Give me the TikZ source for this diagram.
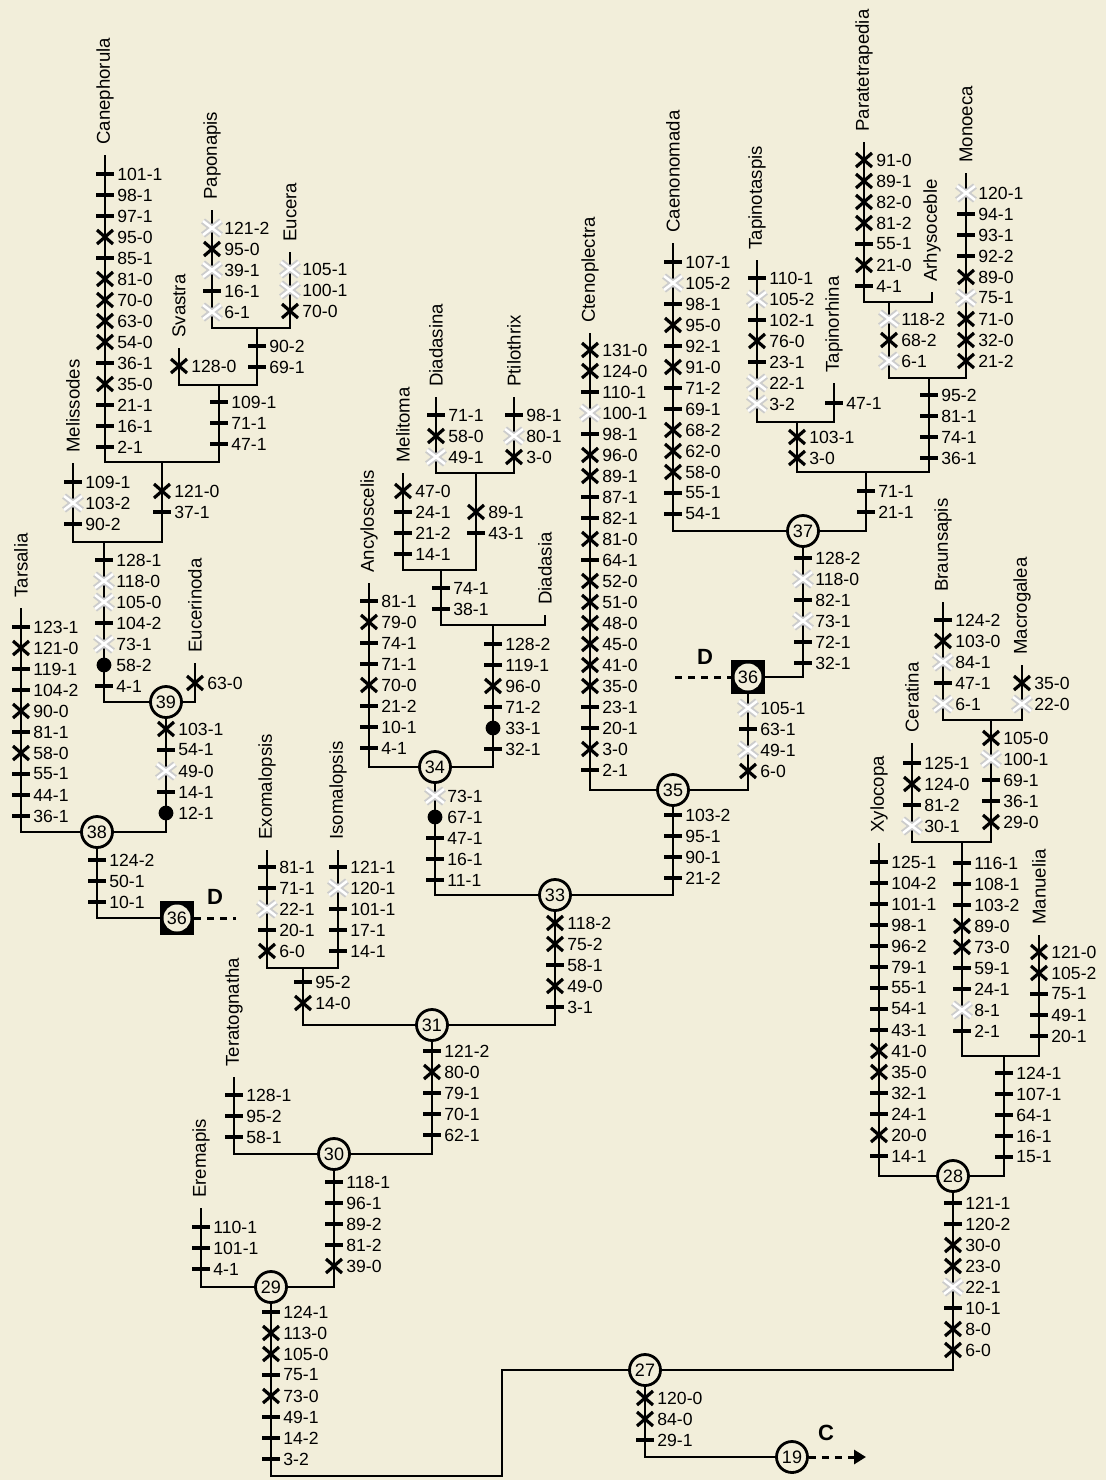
\documentclass[tikz,border=0pt]{standalone}
\usepackage{fontspec}
\setmainfont{Liberation Sans}
\usetikzlibrary{arrows.meta}
\definecolor{paper}{HTML}{F2EEDA}

\tikzset{
  branch/.style={line width=1.4pt},
  tickmark/.style={line width=1.6pt},
  chr/.style={anchor=west, inner sep=0pt, xshift=6pt, font=\fontsize{8.8}{10}\selectfont},
  taxon/.style={rotate=90, anchor=west, inner sep=0pt, font=\fontsize{9.3}{11}\selectfont},
  clade/.style={circle, draw, line width=1.4pt, fill=paper, minimum size=15.5pt, inner sep=0pt, font=\fontsize{9}{10}\selectfont},
  boxed/.style={rectangle, fill=black, minimum size=17pt, inner sep=0pt},
  boxin/.style={circle, fill=paper, minimum size=13.5pt, inner sep=0pt, font=\fontsize{9}{10}\selectfont},
  link/.style={line width=1.5pt, dash pattern=on 3.5pt off 3pt},
  tag/.style={font=\fontsize{11}{12}\selectfont\bfseries, inner sep=0pt}
}

% character marks: bar, reversal, homoplasy, unique
\newcommand{\tkb}[2]{\draw[tickmark] (#1,#2) ++(-9,0) -- ++(18,0);}
\newcommand{\tkx}[2]{\draw[tickmark] (#1,#2) ++(-8,-7) -- ++(16,14) (#1,#2) ++(-8,7) -- ++(16,-14);}
\newcommand{\tko}[2]{%
  \draw[line width=3.2pt, gray!40] (#1,#2) ++(-9,-7) -- ++(18,14) (#1,#2) ++(-9,7) -- ++(18,-14);
  \draw[line width=1.3pt, white] (#1,#2) ++(-9,-7) -- ++(18,14) (#1,#2) ++(-9,7) -- ++(18,-14);}
\newcommand{\tkd}[2]{\fill (#1,#2) circle (3.7pt);}

\newcommand{\chars}[4]{%
  \foreach \kind/\txt [count=\i from 0] in {#4}{
    \pgfmathsetmacro{\yy}{#3+21*\i}
    \csname tk\kind\endcsname{#2}{\yy}
    \node[chr] (#1-\i) at (#2,\yy) {\txt};
  }}

\newcommand{\leaf}[4]{%
  \coordinate (#1) at (#2,#3);
  \node[taxon] (#1-lbl) at (#2,{#3-10}) {#4};}

\begin{document}
\begin{tikzpicture}[x=0.5pt, y=-0.5pt]

  \fill[paper] (0,0) rectangle (1106,1480);
  \useasboundingbox (0,0) rectangle (1106,1480);

  % taxa
  \leaf{canephorula}{105}{155}{Canephorula}
  \leaf{paponapis}{212}{210}{Paponapis}
  \leaf{eucera}{290}{252}{Eucera}
  \leaf{svastra}{179}{348}{Svastra}
  \leaf{melissodes}{73}{463}{Melissodes}
  \leaf{eucerinoda}{195}{663}{Eucerinoda}
  \leaf{tarsalia}{21}{608}{Tarsalia}
  \leaf{exomalopsis}{267}{850}{Exomalopsis}
  \leaf{isomalopsis}{338}{850}{Isomalopsis}
  \leaf{teratognatha}{234}{1077}{Teratognatha}
  \leaf{eremapis}{201}{1208}{Eremapis}
  \leaf{ancyloscelis}{369}{583}{Ancyloscelis}
  \leaf{melitoma}{403}{473}{Melitoma}
  \leaf{diadasina}{436}{397}{Diadasina}
  \leaf{ptilothrix}{514}{397}{Ptilothrix}
  \leaf{diadasia}{545}{615}{Diadasia}
  \leaf{ctenoplectra}{590}{333}{Ctenoplectra}
  \leaf{caenonomada}{673}{243}{Caenonomada}
  \leaf{tapinotaspis}{757}{260}{Tapinotaspis}
  \leaf{tapinorhina}{834}{383}{Tapinorhina}
  \leaf{paratetrapedia}{864}{142}{Paratetrapedia}
  \leaf{arhysoceble}{932}{292}{Arhysoceble}
  \leaf{monoeca}{966}{173}{Monoeca}
  \leaf{braunsapis}{943}{602}{Braunsapis}
  \leaf{macrogalea}{1022}{665}{Macrogalea}
  \leaf{ceratina}{912}{743}{Ceratina}
  \leaf{xylocopa}{879}{843}{Xylocopa}
  \leaf{manuelia}{1039}{935}{Manuelia}

  % joints
  \coordinate (jPE) at (257,328);
  \coordinate (jSv) at (219,385);
  \coordinate (jCa) at (162,462);
  \coordinate (jMe) at (104,542);
  \coordinate (jEI) at (303,968);
  \coordinate (jDP) at (476,473);
  \coordinate (jMD) at (441,570);
  \coordinate (jDi) at (493,625);
  \coordinate (jTap) at (797,422);
  \coordinate (jPA) at (889,302);
  \coordinate (jPM) at (929,378);
  \coordinate (jR) at (866,472);
  \coordinate (jBM) at (991,720);
  \coordinate (jCr) at (962,842);
  \coordinate (jMn) at (1004,1056);
  \coordinate (jBot) at (502,1476);
  \coordinate (dA) at (236,918);
  \coordinate (dB) at (675,677);
  \coordinate (cEnd) at (866,1457);

  % clade nodes
  \node[clade] (n39) at (166,702) {39};
  \node[clade] (n38) at (97,832) {38};
  \node[boxed] (box36a) at (177,918) {};
  \node[boxin] (box36a-in) at (box36a) {36};
  \node[clade] (n34) at (435,767) {34};
  \node[clade] (n35) at (673,790) {35};
  \node[clade] (n33) at (555,895) {33};
  \node[boxed] (box36b) at (748,677) {};
  \node[boxin] (box36b-in) at (box36b) {36};
  \node[clade] (n37) at (803,531) {37};
  \node[clade] (n31) at (432,1025) {31};
  \node[clade] (n30) at (334,1154) {30};
  \node[clade] (n29) at (271,1287) {29};
  \node[clade] (n27) at (645,1370) {27};
  \node[clade] (n28) at (953,1176) {28};
  \node[clade] (n19) at (792,1457) {19};

  % branches
  \draw[branch] (paponapis) |- (jPE) -| (eucera);
  \draw[branch] (svastra) |- (jSv) -| (jPE);
  \draw[branch] (canephorula) |- (jCa) -| (jSv);
  \draw[branch] (melissodes) |- (jMe) -| (jCa);
  \draw[branch] (jMe) |- (n39) -| (eucerinoda);
  \draw[branch] (tarsalia) |- (n38) -| (n39);
  \draw[branch] (n38) |- (box36a);
  \draw[link] (box36a) -- (dA);
  \draw[branch] (exomalopsis) |- (jEI) -| (isomalopsis);
  \draw[branch] (jEI) |- (n31);
  \draw[branch] (diadasina) |- (jDP) -| (ptilothrix);
  \draw[branch] (melitoma) |- (jMD) -| (jDP);
  \draw[branch] (jMD) |- (jDi) -| (diadasia);
  \draw[branch] (ancyloscelis) |- (n34) -| (jDi);
  \draw[branch] (n34) |- (n33) -| (n35);
  \draw[branch] (ctenoplectra) |- (n35) -| (box36b);
  \draw[link] (dB) -- (box36b);
  \draw[branch] (box36b) -| (n37);
  \draw[branch] (tapinotaspis) |- (jTap) -| (tapinorhina);
  \draw[branch] (paratetrapedia) |- (jPA) -| (arhysoceble);
  \draw[branch] (jPA) |- (jPM) -| (monoeca);
  \draw[branch] (jTap) |- (jR) -| (jPM);
  \draw[branch] (caenonomada) |- (n37) -| (jR);
  \draw[branch] (n33) |- (n31);
  \draw[branch] (n31) |- (n30);
  \draw[branch] (teratognatha) |- (n30);
  \draw[branch] (n30) |- (n29);
  \draw[branch] (eremapis) |- (n29);
  \draw[branch] (n29) |- (jBot) |- (n27);
  \draw[branch] (n27) -| (n28);
  \draw[branch] (n27) |- (n19);
  \draw[link, -{Triangle[length=6pt, width=7pt]}] (n19) -- (cEnd);
  \draw[branch] (braunsapis) |- (jBM) -| (macrogalea);
  \draw[branch] (ceratina) |- (jCr) -| (jBM);
  \draw[branch] (jCr) |- (jMn) -| (manuelia);
  \draw[branch] (xylocopa) |- (n28) -| (jMn);

  \node[tag] (dtagA) at (215,897) {D};
  \node[tag] (dtagB) at (705,657) {D};
  \node[tag] (ctag) at (826,1433) {C};

  % characters
  \chars{ca}{105}{174}{b/101-1, b/98-1, b/97-1, x/95-0, b/85-1, x/81-0, x/70-0, x/63-0, x/54-0, b/36-1, x/35-0, b/21-1, b/16-1, b/2-1}
  \chars{pa}{212}{228}{o/121-2, x/95-0, o/39-1, b/16-1, o/6-1}
  \chars{eu}{290}{269}{o/105-1, o/100-1, x/70-0}
  \chars{pe}{257}{346}{b/90-2, b/69-1}
  \chars{sv}{179}{366}{x/128-0}
  \chars{sg}{219}{402}{b/109-1, b/71-1, b/47-1}
  \chars{cg}{162}{491}{x/121-0, b/37-1}
  \chars{me}{73}{482}{b/109-1, o/103-2, b/90-2}
  \chars{mg}{104}{560}{b/128-1, o/118-0, o/105-0, b/104-2, o/73-1, d/58-2, b/4-1}
  \chars{ec}{195}{683}{x/63-0}
  \chars{c39}{166}{729}{x/103-1, b/54-1, o/49-0, b/14-1, d/12-1}
  \chars{ta}{21}{627}{b/123-1, x/121-0, b/119-1, b/104-2, x/90-0, b/81-1, x/58-0, b/55-1, b/44-1, b/36-1}
  \chars{c38}{97}{860}{b/124-2, b/50-1, b/10-1}
  \chars{ex}{267}{867}{b/81-1, b/71-1, o/22-1, b/20-1, x/6-0}
  \chars{is}{338}{867}{b/121-1, o/120-1, b/101-1, b/17-1, b/14-1}
  \chars{ei}{303}{982}{b/95-2, x/14-0}
  \chars{ml}{403}{491}{x/47-0, b/24-1, b/21-2, b/14-1}
  \chars{dn}{436}{415}{b/71-1, x/58-0, o/49-1}
  \chars{pt}{514}{415}{b/98-1, o/80-1, x/3-0}
  \chars{dp}{476}{512}{x/89-1, b/43-1}
  \chars{md}{441}{588}{b/74-1, b/38-1}
  \chars{dd}{493}{644}{b/128-2, b/119-1, x/96-0, b/71-2, d/33-1, b/32-1}
  \chars{an}{369}{601}{b/81-1, x/79-0, b/74-1, b/71-1, x/70-0, b/21-2, b/10-1, b/4-1}
  \chars{c34}{435}{796}{o/73-1, d/67-1, b/47-1, b/16-1, b/11-1}
  \chars{c35}{673}{815}{b/103-2, b/95-1, b/90-1, b/21-2}
  \chars{ct}{590}{350}{x/131-0, x/124-0, b/110-1, o/100-1, b/98-1, x/96-0, x/89-1, b/87-1, b/82-1, x/81-0, b/64-1, x/52-0, x/51-0, x/48-0, x/45-0, x/41-0, x/35-0, b/23-1, b/20-1, x/3-0, b/2-1}
  \chars{b36}{748}{708}{o/105-1, b/63-1, o/49-1, x/6-0}
  \chars{c37}{803}{558}{b/128-2, o/118-0, b/82-1, o/73-1, b/72-1, b/32-1}
  \chars{cn}{673}{262}{b/107-1, o/105-2, b/98-1, x/95-0, b/92-1, x/91-0, b/71-2, b/69-1, x/68-2, x/62-0, x/58-0, b/55-1, b/54-1}
  \chars{rs}{866}{491}{b/71-1, b/21-1}
  \chars{tp}{757}{278}{b/110-1, o/105-2, b/102-1, x/76-0, b/23-1, o/22-1, o/3-2}
  \chars{th}{834}{403}{b/47-1}
  \chars{tt}{797}{437}{x/103-1, x/3-0}
  \chars{pr}{864}{160}{x/91-0, x/89-1, x/82-0, x/81-2, b/55-1, x/21-0, b/4-1}
  \chars{pq}{889}{319}{o/118-2, x/68-2, o/6-1}
  \chars{mo}{966}{193}{o/120-1, b/94-1, b/93-1, b/92-2, x/89-0, o/75-1, x/71-0, x/32-0, x/21-2}
  \chars{pm}{929}{395}{b/95-2, b/81-1, b/74-1, b/36-1}
  \chars{c33}{555}{923}{x/118-2, x/75-2, b/58-1, x/49-0, b/3-1}
  \chars{c31}{432}{1051}{b/121-2, x/80-0, b/79-1, b/70-1, b/62-1}
  \chars{te}{234}{1095}{b/128-1, b/95-2, b/58-1}
  \chars{c30}{334}{1182}{b/118-1, b/96-1, b/89-2, b/81-2, x/39-0}
  \chars{er}{201}{1227}{b/110-1, b/101-1, b/4-1}
  \chars{c29}{271}{1312}{b/124-1, x/113-0, x/105-0, b/75-1, x/73-0, b/49-1, b/14-2, b/3-2}
  \chars{c27}{645}{1398}{x/120-0, x/84-0, b/29-1}
  \chars{br}{943}{620}{b/124-2, x/103-0, o/84-1, b/47-1, o/6-1}
  \chars{mc}{1022}{683}{x/35-0, o/22-0}
  \chars{bm}{991}{738}{x/105-0, o/100-1, b/69-1, b/36-1, x/29-0}
  \chars{ce}{912}{763}{b/125-1, x/124-0, b/81-2, o/30-1}
  \chars{cr}{962}{863}{b/116-1, b/108-1, b/103-2, x/89-0, x/73-0, b/59-1, b/24-1, o/8-1, b/2-1}
  \chars{mn}{1039}{952}{x/121-0, x/105-2, b/75-1, b/49-1, b/20-1}
  \chars{mz}{1004}{1073}{b/124-1, b/107-1, b/64-1, b/16-1, b/15-1}
  \chars{xy}{879}{862}{b/125-1, b/104-2, b/101-1, b/98-1, b/96-2, b/79-1, b/55-1, b/54-1, b/43-1, x/41-0, x/35-0, b/32-1, b/24-1, x/20-0, b/14-1}
  \chars{c28}{953}{1203}{b/121-1, b/120-2, x/30-0, x/23-0, o/22-1, b/10-1, x/8-0, x/6-0}

\end{tikzpicture}
\end{document}
